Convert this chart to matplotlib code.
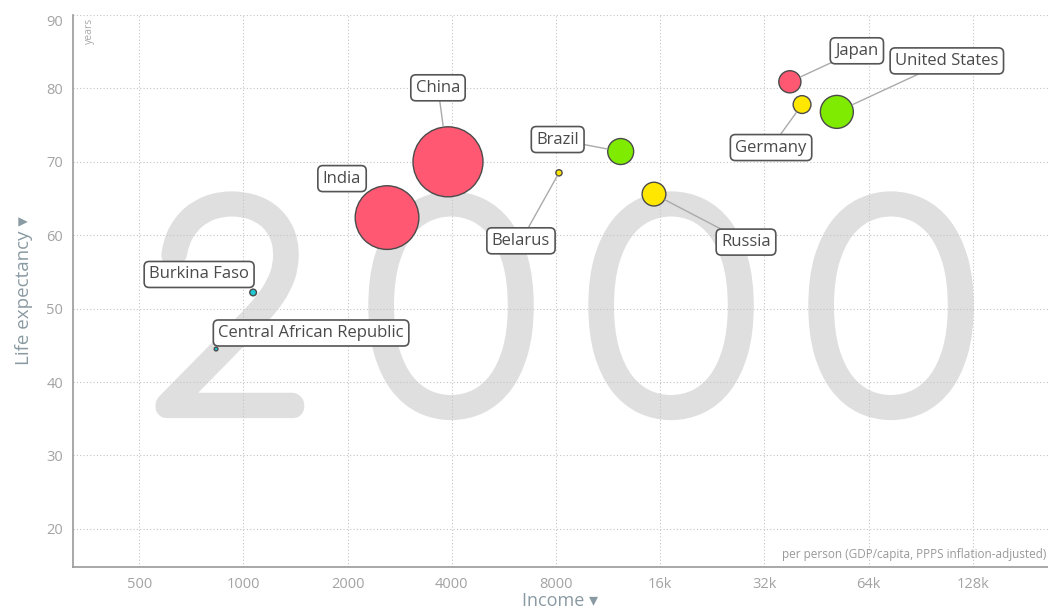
import numpy as np
import matplotlib
matplotlib.use("Agg")
import matplotlib.pyplot as plt
import matplotlib.patheffects as pe

# Gapminder-style bubble chart, year 2000
countries = ["China", "India", "United States", "Brazil", "Russia", "Japan",
             "Germany", "Belarus", "Burkina Faso", "Central African Republic"]
income = [3900, 2600, 51800, 12300, 15350, 37900, 41100, 8160, 1067, 834]
life_exp = [70.0, 62.4, 76.8, 71.4, 65.6, 80.9, 77.8, 68.5, 52.2, 44.5]
population = [1270, 1050, 282, 175, 146, 127, 82, 10, 11.6, 3.7]  # millions
region = ["asia", "asia", "americas", "americas", "europe", "asia",
          "europe", "europe", "africa", "africa"]
year = "2000"

x_ticks = [500, 1000, 2000, 4000, 8000, 16000, 32000, 64000, 128000]
x_tick_labels = ["500", "1000", "2000", "4000", "8000", "16k", "32k", "64k", "128k"]
y_ticks = [20, 30, 40, 50, 60, 70, 80, 90]

region_colors = {"asia": "#ff5872", "americas": "#7feb00",
                 "europe": "#ffe700", "africa": "#1fc8d3"}

# label offsets in pixels from each bubble (layout only)
label_offsets = {
    "China": (-10, 74), "India": (-45, 39), "United States": (110, 51),
    "Brazil": (-63, 12), "Russia": (92, -48), "Japan": (67, 31),
    "Germany": (-31, -43), "Belarus": (-38, -68), "Burkina Faso": (-54, 18),
    "Central African Republic": (95, 16),
}
no_line = {"India", "Burkina Faso", "Central African Republic"}

W, H = 1048, 614
fig = plt.figure(figsize=(W / 100, H / 100), dpi=100)
ax = fig.add_axes([73 / W, 47 / H, 975 / W, 552 / H])
ax.set_xscale("log")
ax.set_xlim(322, 211000)
ax.set_ylim(14.8, 90)

# big year in the background: thin glyphs thickened with a round stroke
year_color = "#dfdfdf"
digit_x = [231, 451, 671, 891]
for ch, px in zip(year, digit_x):
    ax.text(px / W, 1 - 407 / H, ch, transform=fig.transFigure,
            ha="center", va="baseline", fontsize=208, color=year_color,
            family="Lato", fontweight="light", zorder=0,
            path_effects=[pe.withStroke(linewidth=16, foreground=year_color,
                                        capstyle="round", joinstyle="round")])

ax.set_xticks(x_ticks)
ax.set_xticklabels(x_tick_labels)
ax.set_yticks(y_ticks)
ax.minorticks_off()
ax.tick_params(colors="#aaaaaa", labelsize=10.5, length=0, pad=7)
for lab in ax.get_xticklabels() + ax.get_yticklabels():
    lab.set_family("Open Sans")
    lab.set_color("#a3a3a3")
ax.get_yticklabels()[-1].set_va("top")

ax.grid(True, linestyle=(0, (1, 2)), color="#c4c4c4", linewidth=0.8)
for side in ["top", "right"]:
    ax.spines[side].set_visible(False)
for side in ["left", "bottom"]:
    ax.spines[side].set_color("#999999")
    ax.spines[side].set_linewidth(1.2)

# bubbles, area proportional to population
sizes = [2.0 * p for p in population]
colors = [region_colors[r] for r in region]
order = np.argsort(sizes)[::-1]
ax.scatter(np.array(income)[order], np.array(life_exp)[order],
           s=np.array(sizes)[order], c=np.array(colors)[order],
           edgecolors="#4a4a4a", linewidths=1.0, zorder=3)

for name, x, y, s in zip(countries, income, life_exp, sizes):
    dx, dy = label_offsets[name]
    radius_pt = np.sqrt(s) / 2
    arrow = None
    if name not in no_line:
        arrow = dict(arrowstyle="-", color="#aaaaaa", lw=1.0,
                     shrinkA=0, shrinkB=radius_pt + 0.5)
    ax.annotate(name, xy=(x, y), xytext=(dx, dy), textcoords="offset pixels",
                ha="center", va="center", fontsize=12, color="#4a4a4a",
                family="Open Sans", zorder=4,
                bbox=dict(boxstyle="round,pad=0.3,rounding_size=0.3",
                          fc="white", ec="#555555", lw=1.2),
                arrowprops=arrow)

ax.set_xlabel("Income \u25be", fontsize=13, color="#8a9aa2",
              family=["Open Sans", "DejaVu Sans"], labelpad=0)
ax.set_ylabel("Life expectancy \u25be", fontsize=13.5, color="#8a9aa2",
              family=["Open Sans", "DejaVu Sans"], labelpad=10)

ax.text(0.011, 0.995, "years", transform=ax.transAxes, rotation=90,
        ha="left", va="top", fontsize=7.5, color="#aaaaaa", family="Open Sans")
ax.text(0.998, 0.01, "per person (GDP/capita, PPPS inflation-adjusted)",
        transform=ax.transAxes, ha="right", va="bottom", fontsize=8.5,
        color="#999999", family="Open Sans", zorder=2)

fig.savefig("out.png", dpi=100)
